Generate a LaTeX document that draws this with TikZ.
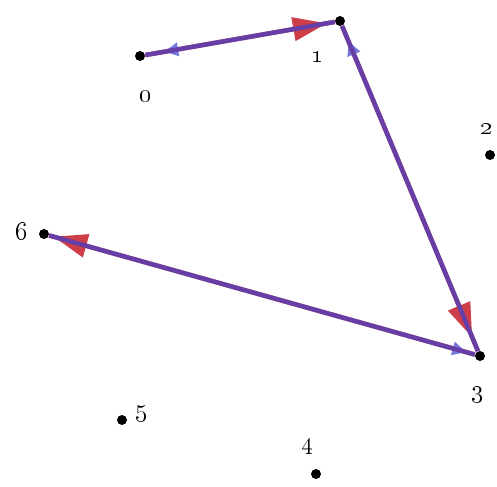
\documentclass[tikz,border=0pt]{standalone}
\usetikzlibrary{arrows.meta,decorations.markings}
\definecolor{arrblue}{RGB}{60,62,205}
\definecolor{arrred}{RGB}{205,62,72}
\tikzset{
  pt/.style={circle,fill=black,inner sep=0pt,minimum size=2mm},
  ptlabel/.style={font=\Large},
  bluearr/.style={line width=2.6pt,arrblue,postaction={decorate,
    decoration={markings,mark=at position #1 with {\arrow{Triangle[length=2.8mm,width=2.6mm]}}}}},
  redarr/.style={line width=2.6pt,arrred,postaction={decorate,
    decoration={markings,mark=at position #1 with {\arrow{Triangle[length=6.8mm,width=4.6mm]}}}}}
}

\begin{document}
\begin{tikzpicture}[x=1cm,y=1cm]
  \useasboundingbox (0,0) rectangle (9.94,9.72);
  \node[pt] (p0) at (2.80,8.60) {};
  \node[pt] (p1) at (6.80,9.30) {};
  \node[pt] (p2) at (9.80,6.62) {};
  \node[pt] (p3) at (9.60,2.60) {};
  \node[pt] (p4) at (6.32,0.24) {};
  \node[pt] (p5) at (2.44,1.32) {};
  \node[pt] (p6) at (0.88,5.04) {};
  \node[ptlabel] (l0) at (2.92,7.80) {\oldstylenums{0}};
  \node[ptlabel] (l1) at (6.36,8.58) {\oldstylenums{1}};
  \node[ptlabel] (l2) at (9.74,7.14) {\oldstylenums{2}};
  \node[ptlabel] (l3) at (9.56,1.84) {\oldstylenums{3}};
  \node[ptlabel] (l4) at (6.16,0.80) {\oldstylenums{4}};
  \node[ptlabel] (l5) at (2.84,1.46) {\oldstylenums{5}};
  \node[ptlabel] (l6) at (0.44,5.10) {\oldstylenums{6}};

  % red edges
  \draw[redarr=-4.5pt] (p0) -- (p1);
  \draw[redarr=-8.5pt] (p1) -- (p3);
  \draw[redarr=-2.5pt] (p3) -- (p6);
  % blue edges on top
  \begin{scope}[transparency group,opacity=.7]
    \draw[bluearr=-11pt] (p1) -- (p0);
    \draw[bluearr=-9.5pt] (p3) -- (p1);
    \draw[bluearr=-5pt] (p6) -- (p3);
  \end{scope}
\end{tikzpicture}
\end{document}
